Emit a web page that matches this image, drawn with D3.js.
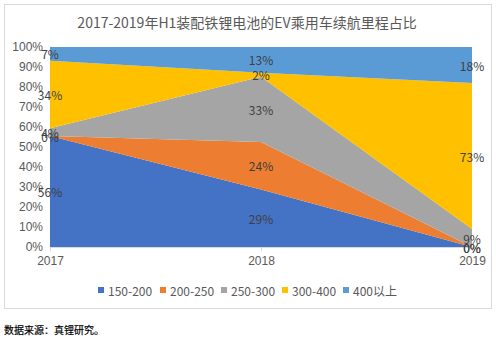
<!DOCTYPE html>
<html><head><meta charset="utf-8">
<script src="https://cdn.jsdelivr.net/npm/d3@7"></script>
<style>body{margin:0;background:#fff;}svg{display:block;font-family:"Noto Sans CJK SC","Noto Sans",sans-serif;}</style>
</head><body><svg id="c" width="496" height="340"></svg>
<script>
const years = ["2017","2018","2019"];
const seriesNames = ["150-200","200-250","250-300","300-400","400以上"];
const colors = ["#4472C4","#ED7D31","#A5A5A5","#FFC000","#5B9BD5"];
const s150_200 = [56, 29, 0];
const s200_250 = [0, 24, 0];
const s250_300 = [4, 33, 9];
const s300_400 = [34, 2, 73];
const s400plus = [7, 13, 18];
const yTicks = [0,0.1,0.2,0.3,0.4,0.5,0.6,0.7,0.8,0.9,1];
const title = "2017-2019年H1装配铁锂电池的EV乘用车续航里程占比";
const source = "数据来源：真锂研究。";

const seriesVals = [s150_200,s200_250,s250_300,s300_400,s400plus];
const rows = years.map((y,i)=>{const r={year:y}; seriesNames.forEach((n,j)=>r[n]=seriesVals[j][i]); return r;});
const stack = d3.stack().keys(seriesNames).offset(d3.stackOffsetExpand);
const layers = stack(rows);

const svg = d3.select("#c");
const W=496,H=340;
const m={left:50,right:24,top:47,bottom:93};
const x = d3.scalePoint().domain(years).range([m.left, W-m.right]);
const y = d3.scaleLinear().domain([0,1]).range([H-m.bottom, m.top]);

svg.append("rect").attr("x",4.5).attr("y",4.5).attr("width",487).attr("height",304)
  .attr("fill","#fff").attr("stroke","#d9d9d9");

svg.append("text").attr("x",247).attr("y",22).attr("text-anchor","middle").attr("dominant-baseline","central")
  .attr("font-size",14).attr("fill","#595959").text(title);

const area = d3.area().x(d=>x(d.data.year)).y0(d=>y(d[0])).y1(d=>y(d[1]));
svg.append("g").selectAll("path").data(layers).join("path")
  .attr("d",area).attr("fill",(d,i)=>colors[i]);

// x axis
const xa = svg.append("g").attr("transform",`translate(0,${y(0)})`).call(d3.axisBottom(x).tickSize(4).tickSizeOuter(0));
xa.select(".domain").attr("stroke","#d9d9d9");
xa.selectAll(".tick line").attr("stroke","#d9d9d9");
xa.selectAll(".tick text").attr("font-size",12).attr("fill","#595959").attr("dy","0.9em").attr("font-family","inherit");

// y axis
const ya = svg.append("g").attr("transform",`translate(${m.left},0)`)
  .call(d3.axisLeft(y).tickValues(yTicks).tickFormat(d3.format(".0%")).tickSize(0).tickPadding(7));
ya.select(".domain").remove();
ya.selectAll(".tick text").attr("font-size",12).attr("fill","#595959").attr("font-family","inherit");

// labels
layers.forEach((L,j)=>{
  L.forEach((d,i)=>{
    svg.append("text").attr("x",x(d.data.year)).attr("y",y((d[0]+d[1])/2))
      .attr("text-anchor","middle").attr("dominant-baseline","central")
      .attr("font-size",12).attr("fill","#404040").text(seriesVals[j][i]+"%");
  });
});

// legend
const legX = [98,160,221,282,343];
const lg = svg.append("g");
seriesNames.forEach((n,i)=>{
  lg.append("rect").attr("x",legX[i]).attr("y",287).attr("width",6).attr("height",6).attr("fill",colors[i]);
  lg.append("text").attr("x",legX[i]+10).attr("y",290).attr("dominant-baseline","central")
    .attr("font-size",12).attr("fill","#595959").text(n);
});

svg.append("text").attr("x",4).attr("y",329).attr("dominant-baseline","central")
  .attr("font-size",10).attr("fill","#000").attr("stroke","#000").attr("stroke-width",0.2).text(source);
</script></body></html>
